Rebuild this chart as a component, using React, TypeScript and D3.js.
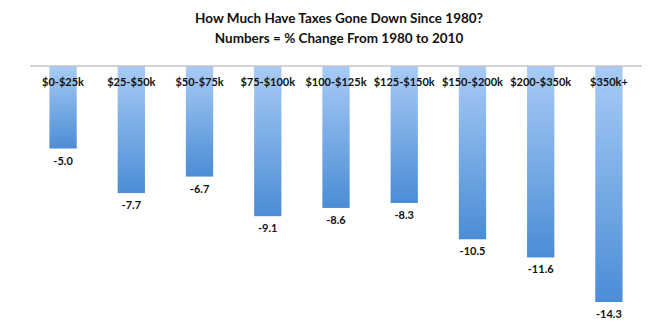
import React from "react";
import * as d3 from "d3";

const categories = ["$0-$25k", "$25-$50k", "$50-$75k", "$75-$100k", "$100-$125k", "$125-$150k", "$150-$200k", "$200-$350k", "$350k+"];
const values = [-5.0, -7.7, -6.7, -9.1, -8.6, -8.3, -10.5, -11.6, -14.3];
const titleLines = ["How Much Have Taxes Gone Down Since 1980?", "Numbers = % Change From 1980 to 2010"];

const W = 658;
const H = 333;
const axisY = 66;
const FONT = "Lato, 'Open Sans', sans-serif";

export default function App() {
  const x = d3.scaleBand<string>().domain(categories).range([31, 641]).paddingInner(0.6).paddingOuter(0.27);
  const y = d3.scaleLinear().domain([0, -14.3]).range([axisY, 302]);
  const bw = x.bandwidth();
  return (
    <svg width={W} height={H} style={{ position: "absolute", left: 0, top: 0, background: "#fff" }}>
      <defs>
        <linearGradient id="barGrad" x1="0" y1="0" x2="0" y2="1">
          <stop offset="0%" stopColor="#a8cbf6" />
          <stop offset="100%" stopColor="#4b8dd5" />
        </linearGradient>
      </defs>
      <rect x={0} y={0} width={W} height={H} fill="#fff" />
      {titleLines.map((t, i) => (
        <text key={i} x={339} y={23 + i * 19.5} textAnchor="middle" fontFamily={FONT} fontWeight="bold" fontSize={13.5} fill="#111">
          {t}
        </text>
      ))}
      {categories.map((c, i) => {
        const x0 = x(c)!;
        const yb = y(values[i]);
        return (
          <g key={c}>
            <rect x={x0} y={axisY} width={bw} height={yb - axisY} fill="url(#barGrad)" />
            <text x={x0 + bw / 2} y={yb + 16} textAnchor="middle" fontFamily={FONT} fontWeight="bold" fontSize={11} fill="#111">
              {values[i].toFixed(1)}
            </text>
          </g>
        );
      })}
      <line x1={30} x2={642} y1={axisY} y2={axisY} stroke="#c4c4c4" strokeWidth={1.5} />
      {categories.map((c) => (
        <text key={"l" + c} x={x(c)! + bw / 2} y={86} textAnchor="middle" fontFamily={FONT} fontWeight="bold" fontSize={11} fill="#111">
          {c}
        </text>
      ))}
    </svg>
  );
}
